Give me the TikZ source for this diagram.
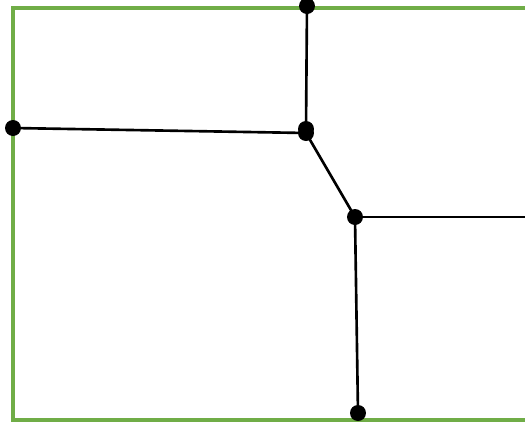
\documentclass[tikz,border=0pt]{standalone}
\usetikzlibrary{positioning}

\begin{document}
\begin{tikzpicture}[
    x=0.02cm, y=-0.02cm,
    dot/.style={circle, fill=black, inner sep=0pt, minimum size=0.32cm},
    edge/.style={draw=black, line width=1.5pt},
    frame/.style={draw={rgb,255:red,112;green,173;blue,71}, line width=1.8pt}
]
\useasboundingbox (0,0) rectangle (525,427);

% Frame
\coordinate (f_tr) at (525,8);
\coordinate (f_tl) at (13,8);
\coordinate (f_bl) at (13,420);
\coordinate (f_br) at (525,420);
\draw[frame] (f_tr) -- (f_tl) -- (f_bl) -- (f_br);

% Nodes
\node[dot] (top) at (307,6) {};
\node[dot] (left) at (13,128) {};
\node[dot] (mid_a) at (306,129) {};
\node[dot] (mid_b) at (306,133) {};
\node[dot] (low) at (355,217) {};
\node[dot] (bottom) at (358,413) {};
\coordinate (right_end) at (525,217);

% Connections
\draw[edge] (top.center) -- (mid_a.center);
\draw[edge] (left.center) -- (mid_b.center);
\draw[edge] (mid_b.center) -- (low.center);
\draw[edge] (low.center) -- (bottom.center);
\draw[edge] (low.center) -- (right_end);

\end{tikzpicture}
\end{document}
